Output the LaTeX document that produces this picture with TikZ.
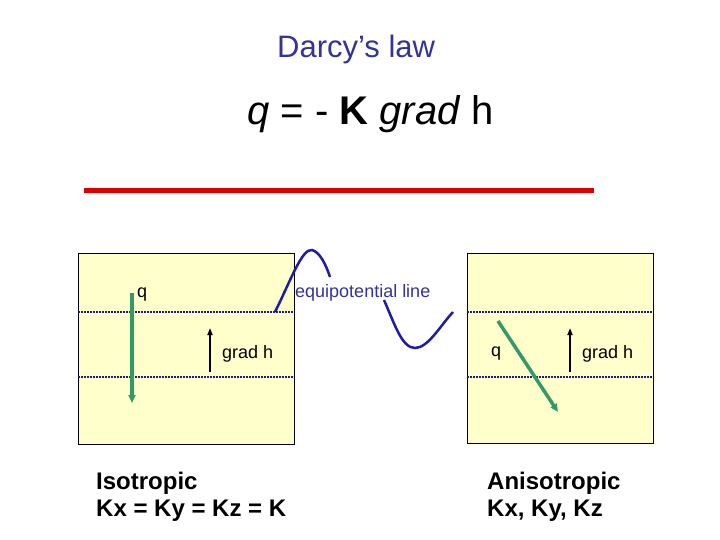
\documentclass[tikz,border=0pt]{standalone}
\usepackage{fontspec}
\setmainfont{Liberation Sans}
\usetikzlibrary{arrows.meta}
\definecolor{boxfill}{HTML}{FFFFCC}
\definecolor{titleblue}{HTML}{333399}
\definecolor{curveblue}{HTML}{1C1CA8}
\definecolor{dotnavy}{HTML}{1A1A80}
\definecolor{qgreen}{HTML}{339966}
\definecolor{redline}{HTML}{DD0000}
\tikzset{
  panel/.style={draw=black, line width=0.8pt, fill=boxfill},
  equiline/.style={draw=dotnavy, line width=1.8pt, dash pattern=on 1.6pt off 1.4pt},
  qarrow/.style={draw=qgreen, line width=3.5pt, -{Triangle[length=8pt,width=7pt]}},
  harrow/.style={draw=black, line width=1.6pt, -{Triangle[length=7pt,width=5pt]}},
  curve/.style={draw=curveblue, line width=2.5pt},
  lbl/.style={inner sep=0pt, anchor=base west, font=\fontsize{18}{21}\selectfont},
  big/.style={inner sep=0pt, anchor=base west, font=\fontsize{24}{28}\selectfont\bfseries}
}
\begin{document}
\begin{tikzpicture}[x=1pt,y=-1pt]
\useasboundingbox[fill=white] (0,0) rectangle (720,540);
% title and equation
\node[inner sep=0pt, anchor=base west, text=titleblue, font=\fontsize{31}{36}\selectfont] (title) at (277,58) {Darcy’s law};
\node[inner sep=0pt, anchor=base west, font=\fontsize{40}{48}\selectfont] (eq) at (247,125) {\textit{q} = - \textbf{K} \textit{grad} h};
% red line
\coordinate (r1) at (84,191);
\coordinate (r2) at (594,191);
\draw[redline, line width=5pt] (r1) -- (r2);
% panels
\node[panel, minimum width=216pt, minimum height=191pt, inner sep=0pt, anchor=north west] (lbox) at (78,253) {};
\node[panel, minimum width=186pt, minimum height=190pt, inner sep=0pt, anchor=north west] (rbox) at (467,253) {};
% equipotential dotted lines
\coordinate (la1) at (78,312); \coordinate (la2) at (294,312);
\coordinate (lb1) at (78,377); \coordinate (lb2) at (294,377);
\coordinate (ra1) at (467,312); \coordinate (ra2) at (653,312);
\coordinate (rb1) at (467,377); \coordinate (rb2) at (653,377);
\draw[equiline] (la1) -- (la2);
\draw[equiline] (lb1) -- (lb2);
\draw[equiline] (ra1) -- (ra2);
\draw[equiline] (rb1) -- (rb2);
% equipotential curve
\coordinate (c0) at (275,312);
\coordinate (c1) at (312,250);
\coordinate (c2) at (330,277);
\coordinate (c3) at (384,300);
\coordinate (c4) at (415,348);
\coordinate (c5) at (453,312);
\draw[curve] (c0) .. controls (290,282) and (302,248) .. (c1) .. controls (320,252) and (326,265) .. (c2);
\draw[curve] (c3) .. controls (395,325) and (402,348) .. (c4) .. controls (428,348) and (440,326) .. (c5);
\node[lbl, text=titleblue] (eqlabel) at (295,297) {equipotential line};
% left panel arrows
\coordinate (lq1) at (132,293); \coordinate (lq2) at (132,403);
\draw[qarrow] (lq1) -- (lq2);
\node[lbl] (lqlabel) at (137,297) {q};
\coordinate (lh1) at (210,372); \coordinate (lh2) at (210,328);
\draw[harrow] (lh1) -- (lh2);
\node[lbl] (lhlabel) at (222,358) {grad h};
% right panel arrows
\coordinate (rq1) at (498,321); \coordinate (rq2) at (558,412);
\draw[qarrow] (rq1) -- (rq2);
\node[lbl] (rqlabel) at (491,356) {q};
\coordinate (rh1) at (570,372); \coordinate (rh2) at (570,328);
\draw[harrow] (rh1) -- (rh2);
\node[lbl] (rhlabel) at (582,358) {grad h};
% bottom captions
\node[big] (iso) at (96,489) {Isotropic};
\node[big] (isok) at (96,516) {Kx = Ky = Kz = K};
\node[big] (aniso) at (487,489) {Anisotropic};
\node[big] (anisok) at (487,516) {Kx, Ky, Kz};
\end{tikzpicture}
\end{document}
